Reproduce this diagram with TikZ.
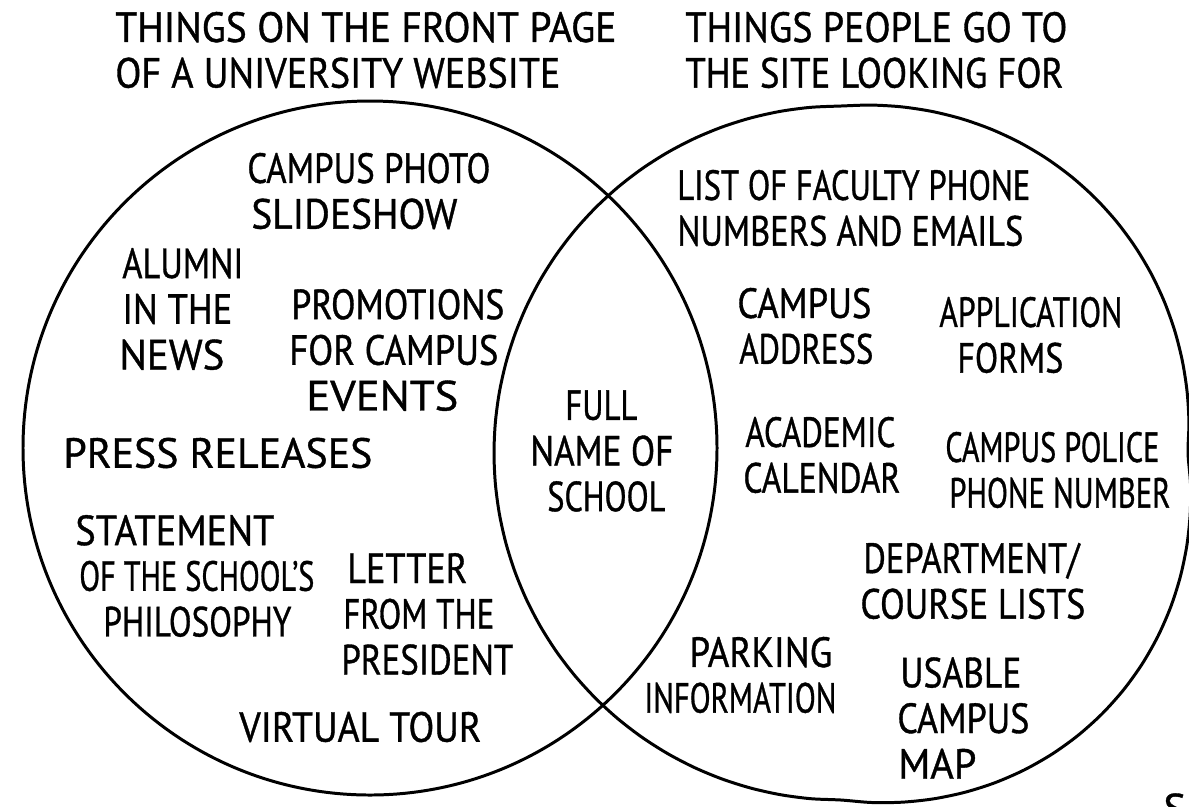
\documentclass[tikz,border=0pt]{standalone}
\usepackage{fontspec}
\usepackage{graphicx}
\setmainfont{PT Sans}[FakeBold=0.9]
% one drawing unit, used for text widths and indents as well
\newlength\pxu
\setlength\pxu{0.02cm}
% a line of lettering stretched or squeezed to a given width
\newcommand\fitline[2]{\resizebox{#1\pxu}{\height}{#2}}
\newcommand\ind[1]{\hspace*{#1\pxu}}
\begin{document}
\begin{tikzpicture}[x=0.02cm,y=-0.02cm,
  set/.style={line width=1.7pt, draw=black, line join=round},
  lbl/.style={font=\fontsize{24}{26}\selectfont, inner sep=0pt, text=black},
  lblL/.style={lbl, align=left, anchor=west}]
  \useasboundingbox (0,0) rectangle (1189,806);
  \fill[white] (0,0) rectangle (1189,806);

  % the two sets; the right one is drawn a little fuller on its right side
  \draw[set] (370,448) circle[radius=347];
  \draw[set] plot[smooth cycle, domain=0:355, samples=72, variable=\t]
    ({841+(347+(13*(sin(\t)>0)+22*(sin(\t)<0))*abs(sin(2*\t))*(cos(\t)>0.01))*cos(\t)},
     {453-(347+(13*(sin(\t)>0)+22*(sin(\t)<0))*abs(sin(2*\t))*(cos(\t)>0.01))*sin(\t)});

  % set headings
  \node[lblL] (headA) at (115,50) {\fitline{501}{THINGS ON THE FRONT PAGE}\\\fitline{445}{OF A UNIVERSITY WEBSITE}};
  \node[lblL] (headB) at (685,50) {\fitline{382}{THINGS PEOPLE GO TO}\\\fitline{378}{THE SITE LOOKING FOR}};

  % front page only
  \node[lblL] (slides) at (247,191) {\fitline{243}{CAMPUS PHOTO}\\\ind{4}\fitline{206}{SLIDESHOW}};
  \node[lblL] (alumni) at (119,309) {\ind{3}\fitline{121}{ALUMNI}\\\ind{3}\fitline{110}{IN THE}\\\fitline{105}{NEWS}};
  \node[lblL] (promo) at (289,350) {\ind{2}\fitline{213}{PROMOTIONS}\\\fitline{209}{FOR CAMPUS}\\\ind{17}\fitline{152}{EVENTS}};
  \node[lblL] (press) at (63,453) {\fitline{309}{PRESS RELEASES}};
  \node[lblL] (philo) at (75,576) {\fitline{199}{STATEMENT}\\\ind{4}\fitline{235}{OF THE SCHOOL'S}\\\ind{28}\fitline{188}{PHILOSOPHY}};
  \node[lblL] (letter) at (341,614) {\ind{6}\fitline{120}{LETTER}\\\ind{2}\fitline{151}{FROM THE}\\\fitline{172}{PRESIDENT}};
  \node[lblL] (tour) at (239,727) {\fitline{242}{VIRTUAL TOUR}};

  % both
  \node[lblL] (name) at (530,451) {\ind{35}\fitline{72}{FULL}\\\fitline{143}{NAME OF}\\\ind{17}\fitline{118}{SCHOOL}};

  % sought only
  \node[lblL] (faculty) at (677,208) {\fitline{353}{LIST OF FACULTY PHONE}\\\fitline{346}{NUMBERS AND EMAILS}};
  \node[lblL] (address) at (737,326) {\fitline{134}{CAMPUS}\\\ind{2}\fitline{134}{ADDRESS}};
  \node[lblL] (forms) at (939,335) {\fitline{183}{APPLICATION}\\\ind{18}\fitline{106}{FORMS}};
  \node[lblL] (calendar) at (743,455) {\ind{2}\fitline{150}{ACADEMIC}\\\fitline{157}{CALENDAR}};
  \node[lblL] (police) at (945,470) {\fitline{214}{CAMPUS POLICE}\\\ind{4}\fitline{221}{PHONE NUMBER}};
  \node[lblL] (courses) at (860,581) {\ind{3}\fitline{216}{DEPARTMENT/}\\\fitline{225}{COURSE LISTS}};
  \node[lblL] (parking) at (644,675) {\ind{45}\fitline{143}{PARKING}\\\fitline{192}{INFORMATION}};
  \node[lblL] (map) at (897,718) {\ind{3}\fitline{121}{USABLE}\\\fitline{132}{CAMPUS}\\\ind{1}\fitline{78}{MAP}};

  % signature, cut by the lower edge
  \node[lbl, anchor=north west] (sig) at (1163,793) {S4};
\end{tikzpicture}
\end{document}
